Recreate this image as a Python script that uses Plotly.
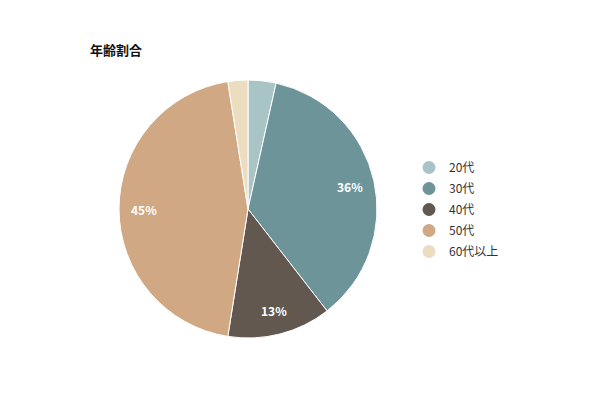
import math
import plotly.graph_objects as go

# -----------------------------------
# Data
# -----------------------------------

age_groups = ["20代", "30代", "40代", "50代", "60代以上"]
shares = [3.5, 36, 13, 45, 2.5]
colors = ["#a9c4c5", "#6d9499", "#63584f", "#d0a883", "#ecdcc0"]

font_family = "Noto Sans CJK JP, Noto Sans, sans-serif"

# pie placement (figure pixels)
cx, cy, r = 240, 201, 129
W, H = 600, 400

fig = go.Figure()

fig.add_trace(
    go.Pie(
        labels=age_groups,
        values=shares,
        textinfo="none",
        marker=dict(colors=colors, line=dict(color="white", width=1)),
        sort=False,
        direction="clockwise",
        rotation=0,
        showlegend=False,
        hoverinfo="label+percent",
        domain=dict(x=[(cx - r) / W, (cx + r) / W], y=[1 - (cy + r) / H, 1 - (cy - r) / H]),
    )
)

# -----------------------------------
# Percentage labels (only for larger slices)
# -----------------------------------

total = sum(shares)
cum = 0
for v in shares:
    frac = v / total
    mid = (cum + frac / 2) * 2 * math.pi
    cum += frac
    if frac < 0.05:
        continue
    lx = cx + 0.81 * r * math.sin(mid)
    ly = cy - 0.81 * r * math.cos(mid)
    fig.add_annotation(
        x=lx / W,
        y=1 - ly / H,
        xref="paper",
        yref="paper",
        xanchor="center",
        yanchor="middle",
        text=f"<b>{frac * 100:.0f}%</b>",
        showarrow=False,
        font=dict(color="white", size=12, family=font_family),
    )

# legend with round markers
for name, col in zip(age_groups, colors):
    fig.add_trace(
        go.Scatter(
            x=[None],
            y=[None],
            mode="markers",
            name=name,
            legendgroup=name,
            marker=dict(color=col, size=13, symbol="circle"),
        )
    )

fig.update_layout(
    width=W,
    height=H,
    margin=dict(l=0, r=0, t=0, b=0),
    paper_bgcolor="white",
    plot_bgcolor="white",
    font=dict(family=font_family, color="#333333", size=12),
    xaxis=dict(visible=False),
    yaxis=dict(visible=False),
    title=dict(
        text="<b>年齢割合</b>",
        x=82 / W,
        xanchor="left",
        y=1 - 42 / H,
        yanchor="middle",
        font=dict(size=13, color="#111111", family=font_family),
    ),
    legend=dict(
        x=401 / W,
        xanchor="left",
        y=1 - 145 / H,
        yanchor="top",
        tracegroupgap=2,
        font=dict(size=12, color="#333333"),
        bgcolor="rgba(0,0,0,0)",
    ),
)

fig.write_html("out.html")
